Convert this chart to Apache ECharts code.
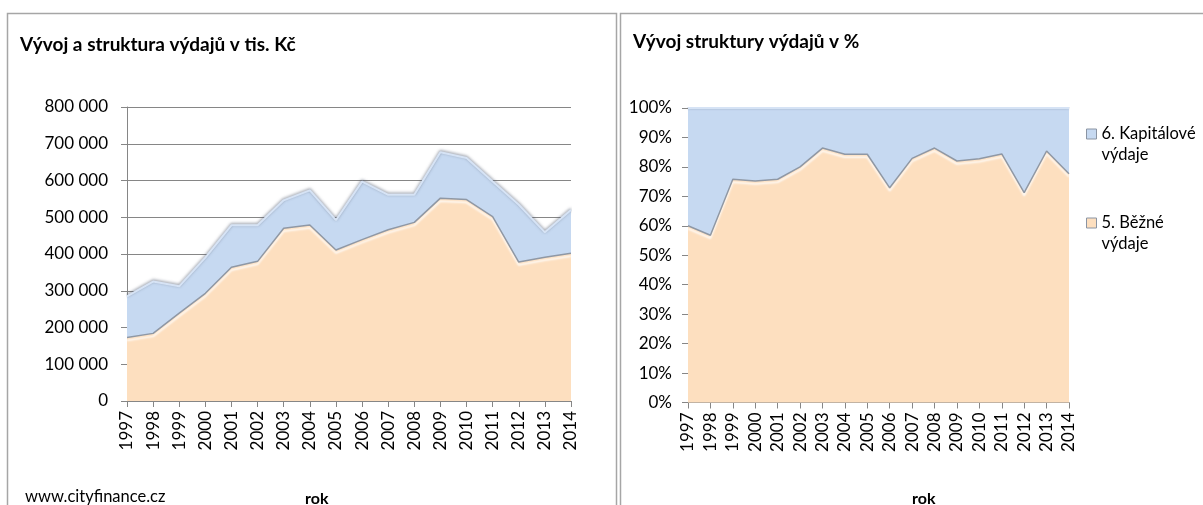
<!DOCTYPE html>
<html>
<head>
<meta charset="utf-8">
<script src="https://cdn.jsdelivr.net/npm/echarts@6/dist/echarts.min.js"></script>
<style>
* { margin: 0; padding: 0; }
body { background: #fff; }
#chart { width: 1203px; height: 505px; }
</style>
</head>
<body>
<div id="chart"></div>
<script>
// roky
const years = ['1997', '1998', '1999', '2000', '2001', '2002', '2003', '2004', '2005',
    '2006', '2007', '2008', '2009', '2010', '2011', '2012', '2013', '2014']
// výdaje v tis. Kč
const bezneVydaje = [173000, 184000, 239000, 293000, 364000, 380000, 470000, 479000, 411000,
    439000, 466000, 486000, 552000, 548000, 502000, 378000, 391000, 402000]
const kapitaloveVydaje = [112000, 141000, 73000, 97000, 114000, 98000, 76000, 94000, 81000,
    158000, 95000, 75000, 125000, 113000, 95000, 156000, 68000, 118000]
// struktura v %
const bezneProc = [60, 56.8, 75.8, 75.2, 75.8, 80, 86.4, 84.3, 84.3,
    72.9, 82.9, 86.4, 82, 82.8, 84.4, 71.3, 85.4, 77.7]
const kapitaloveProc = [40, 43.2, 24.2, 24.8, 24.2, 20, 13.6, 15.7, 15.7,
    27.1, 17.1, 13.6, 18, 17.2, 15.6, 28.7, 14.6, 22.3]

const FONT = 'Lato'
const PEACH = '#FDDFBF'
const BLUE = '#C6D9F1'
const AXIS = '#868686'

function thousands(v) {
    return String(v).replace(/\B(?=(\d{3})+(?!\d))/g, ' ')
}

const xAxisBase = {
    type: 'category',
    data: years,
    boundaryGap: false,
    axisLine: { lineStyle: { color: AXIS } },
    axisTick: { show: true, interval: 0, length: 6, lineStyle: { color: AXIS } },
    axisLabel: { interval: 0, rotate: 90, margin: 10, color: '#000', fontFamily: FONT, fontSize: 17 }
}

const yAxisBase = {
    type: 'value',
    min: 0,
    axisLine: { show: true, lineStyle: { color: AXIS } },
    axisTick: { show: true, length: 6, lineStyle: { color: AXIS } },
    axisLabel: { color: '#000', fontFamily: FONT, fontSize: 17 }
}

// spodní vrstva – světlý okraj pod čarou
const bezneLine = {
    color: '#8f98a5', width: 1.5,
    shadowColor: 'rgba(255,255,255,1)', shadowBlur: 2, shadowOffsetY: 3
}
const kapLine = {
    color: '#d6e3f5', width: 2,
    shadowColor: 'rgba(80,90,110,0.7)', shadowBlur: 3, shadowOffsetY: -1
}

const titleStyle = { fontFamily: FONT, fontSize: 19, fontWeight: 'bold', color: '#000' }

const chart = echarts.init(document.getElementById('chart'))
chart.setOption({
    animation: false,
    title: [
        { text: 'Vývoj a struktura výdajů v tis. Kč', left: 15, top: 30, textStyle: titleStyle },
        { text: 'Vývoj struktury výdajů v %', left: 628, top: 27, textStyle: titleStyle },
        { text: 'rok', left: 300, top: 486,
          textStyle: { fontFamily: FONT, fontSize: 16, fontWeight: 'bold', color: '#000' } },
        { text: 'rok', left: 907, top: 486,
          textStyle: { fontFamily: FONT, fontSize: 16, fontWeight: 'bold', color: '#000' } },
        { text: 'www.cityfinance.cz', left: 20, top: 483,
          textStyle: { fontFamily: FONT, fontSize: 16.5, fontWeight: 'normal', color: '#000' } }
    ],
    graphic: [
        { type: 'rect', shape: { x: 7.5, y: 13.5, width: 609, height: 520 },
          style: { fill: 'none', stroke: '#a6a6a6', lineWidth: 1.5 }, silent: true },
        { type: 'rect', shape: { x: 620.5, y: 13.5, width: 600, height: 520 },
          style: { fill: 'none', stroke: '#a6a6a6', lineWidth: 1.5 }, silent: true }
    ],
    legend: {
        data: ['6. Kapitálové\nvýdaje', '5. Běžné\nvýdaje'],
        orient: 'vertical',
        left: 1081,
        top: 118,
        // čtverec nahoře, aby ikona seděla u prvního řádku
        icon: 'path://M0,0L10,0L10,10L0,10Z M0,30',
        itemWidth: 10,
        itemHeight: 30,
        itemGap: 47,
        itemStyle: { borderColor: '#8a94a3', borderWidth: 1 },
        textStyle: { fontFamily: FONT, fontSize: 16.5, color: '#000', lineHeight: 21 }
    },
    grid: [
        { left: 127, top: 107, width: 444, height: 294 },
        { left: 688, top: 108, width: 381, height: 294.5 }
    ],
    xAxis: [
        Object.assign({ gridIndex: 0 }, xAxisBase),
        Object.assign({ gridIndex: 1 }, xAxisBase)
    ],
    yAxis: [
        Object.assign({}, yAxisBase, {
            gridIndex: 0, max: 800000, interval: 100000,
            axisLabel: Object.assign({}, yAxisBase.axisLabel, { margin: 19, formatter: thousands }),
            splitLine: { show: true, lineStyle: { color: AXIS } }
        }),
        Object.assign({}, yAxisBase, {
            gridIndex: 1, max: 100, interval: 10,
            axisLabel: Object.assign({}, yAxisBase.axisLabel, { margin: 16, formatter: '{value}%' }),
            splitLine: { show: false }
        })
    ],
    series: [
        {
            name: '5. Běžné výdaje', type: 'line', stack: 'abs', xAxisIndex: 0, yAxisIndex: 0,
            data: bezneVydaje, symbol: 'none', z: 3,
            itemStyle: { color: PEACH }, lineStyle: bezneLine,
            areaStyle: { color: PEACH, opacity: 1 }
        },
        {
            name: '6. Kapitálové výdaje', type: 'line', stack: 'abs', xAxisIndex: 0, yAxisIndex: 0,
            data: kapitaloveVydaje, symbol: 'none', z: 2,
            itemStyle: { color: BLUE }, lineStyle: kapLine,
            areaStyle: { color: BLUE, opacity: 1 }
        },
        {
            name: '5. Běžné\nvýdaje', type: 'line', stack: 'pct', xAxisIndex: 1, yAxisIndex: 1,
            data: bezneProc, symbol: 'none', z: 3,
            itemStyle: { color: PEACH }, lineStyle: bezneLine,
            areaStyle: { color: PEACH, opacity: 1 }
        },
        {
            name: '6. Kapitálové\nvýdaje', type: 'line', stack: 'pct', xAxisIndex: 1, yAxisIndex: 1,
            data: kapitaloveProc, symbol: 'none', z: 2,
            itemStyle: { color: BLUE }, lineStyle: kapLine,
            areaStyle: { color: BLUE, opacity: 1 }
        }
    ]
})
</script>
</body>
</html>
